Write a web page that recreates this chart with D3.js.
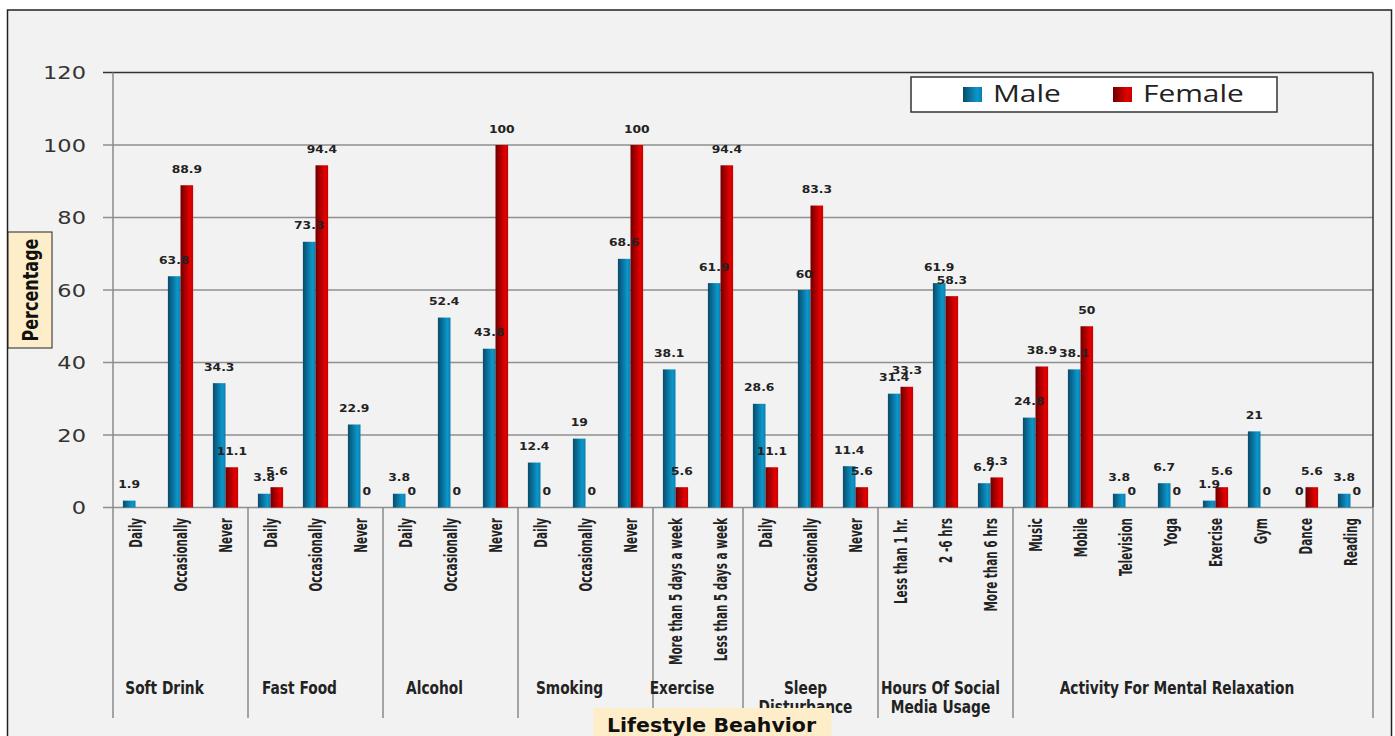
<!DOCTYPE html>
<html><head><meta charset="utf-8">
<script src="https://cdn.jsdelivr.net/npm/d3@7"></script>
<style>html,body{margin:0;padding:0;background:#fff;}svg{display:block;}</style>
</head><body>
<svg id="chart" width="1395" height="736"></svg>
<script>
// ---------- data ----------
const groupLabels = [["Soft Drink"],["Fast Food"],["Alcohol"],["Smoking"],["Exercise"],["Sleep","Disturbance"],["Hours Of Social","Media Usage"],["Activity For Mental Relaxation"]];
const groupCounts = [3,3,3,3,2,3,3,8];
const categories = ["Daily","Occasionally","Never",
  "Daily","Occasionally","Never",
  "Daily","Occasionally","Never",
  "Daily","Occasionally","Never",
  "More than 5 days a week","Less than 5 days a week",
  "Daily","Occasionally","Never",
  "Less than 1 hr.","2 -6 hrs","More than 6 hrs",
  "Music","Mobile","Television","Yoga","Exercise","Gym","Dance","Reading"];
const maleValues   = [1.9,63.8,34.3, 3.8,73.3,22.9, 3.8,52.4,43.8, 12.4,19,68.6, 38.1,61.9, 28.6,60,11.4, 31.4,61.9,6.7, 24.8,38.1,3.8,6.7,1.9,21,0,3.8];
const femaleValues = [null,88.9,11.1, 5.6,94.4,0, 0,0,100, 0,0,100, 5.6,94.4, 11.1,83.3,5.6, 33.3,58.3,8.3, 38.9,50,0,0,5.6,0,5.6,0];
const seriesNames = ["Male","Female"];
const yTicks = [0,20,40,60,80,100,120];
const yTitle = "Percentage";
const xTitle = "Lifestyle Beahvior";

// ---------- layout ----------
const svg = d3.select("#chart");
const L = 113, R = 1373, T = 72.5, B = 507.5, sepBottom = 718;
const keys = categories.map((c,i)=>i);
const x0 = d3.scaleBand().domain(keys).range([L,R]).paddingInner(0.44).paddingOuter(0.22);
const x1 = d3.scaleBand().domain(seriesNames).range([0,x0.bandwidth()]);
const y = d3.scaleLinear().domain([0,120]).range([B,T]);
const gapHalf = (x0.step()-x0.bandwidth())/2;
const condensed = "'Liberation Sans Narrow','DejaVu Sans Condensed',sans-serif";
const verd = "'DejaVu Sans', Verdana, sans-serif";

// gradients
const defs = svg.append("defs");
const grads = {
  Male:[["0%","#094a68"],["35%","#0a6f99"],["75%","#0c97cb"],["100%","#0a7eae"]],
  Female:[["0%","#6e0000"],["35%","#a50000"],["75%","#e40000"],["100%","#c60000"]]
};
Object.entries(grads).forEach(([k,stops])=>{
  const g = defs.append("linearGradient").attr("id","g"+k).attr("x1",0).attr("x2",1).attr("y1",0).attr("y2",0);
  stops.forEach(s=>g.append("stop").attr("offset",s[0]).attr("stop-color",s[1]));
});

// frame
svg.append("rect").attr("x",7.5).attr("y",10).attr("width",1384).attr("height",740)
  .attr("fill","#f2f2f2").attr("stroke","#222").attr("stroke-width",1.5);

// gridlines
svg.append("g").selectAll("line").data(yTicks).join("line")
  .attr("x1",L-10).attr("x2",R).attr("y1",d=>y(d)).attr("y2",d=>y(d))
  .attr("stroke",d=>d===120?"#333":"#8f8f8f").attr("stroke-width",1.5);

// y axis
const yAxis = svg.append("g").attr("transform",`translate(${L},0)`)
  .call(d3.axisLeft(y).tickValues(yTicks).tickSize(10).tickSizeOuter(0));
yAxis.select(".domain").remove();
yAxis.selectAll(".tick line").attr("stroke","none");
yAxis.selectAll(".tick text").attr("x",0).attr("dy","0.35em")
  .attr("transform","translate(-27,0) scale(1.25,1)")
  .attr("font-family",verd).attr("font-size",18).attr("fill","#333")
  .attr("text-anchor","end");

// axis lines
svg.append("line").attr("x1",L).attr("x2",L).attr("y1",T).attr("y2",sepBottom).attr("stroke","#8a8a8a").attr("stroke-width",1.5);
svg.append("line").attr("x1",R).attr("x2",R).attr("y1",T).attr("y2",B).attr("stroke","#333").attr("stroke-width",1.5);

// group separators
let cum = 0; const bounds = [];
groupCounts.forEach(n=>{ bounds.push(cum); cum+=n; }); bounds.push(cum);
svg.append("g").selectAll("line").data(bounds.slice(1)).join("line")
  .attr("x1",d=> d<categories.length ? x0(d)-gapHalf : R)
  .attr("x2",d=> d<categories.length ? x0(d)-gapHalf : R)
  .attr("y1",B).attr("y2",sepBottom).attr("stroke","#8a8a8a").attr("stroke-width",1.5);

// bars
const rows = keys.map(i=>({i, Male:maleValues[i], Female:femaleValues[i]}));
const cells = rows.flatMap(r=>seriesNames.map(s=>({i:r.i, s, v:r[s]}))).filter(d=>d.v!==null);
svg.append("g").selectAll("rect").data(cells).join("rect")
  .attr("x",d=>x0(d.i)+x1(d.s)).attr("width",x1.bandwidth())
  .attr("y",d=>y(d.v)).attr("height",d=>y(0)-y(d.v))
  .attr("fill",d=>`url(#g${d.s})`);

// data labels
svg.append("g").selectAll("text").data(cells).join("text")
  .attr("transform",d=>`translate(${x0(d.i)+x1(d.s)+x1.bandwidth()/2},${y(d.v)-12.5}) scale(1.12,1)`)
  .attr("text-anchor","middle")
  .attr("font-family",verd).attr("font-weight","bold")
  .attr("font-size",11).attr("fill","#222")
  .text(d=>d.v);

// category labels
svg.append("g").selectAll("text").data(keys).join("text")
  .attr("transform",i=>`translate(${x0(i)+x0.bandwidth()/2},518) rotate(-90) scale(0.8,1.25)`)
  .attr("text-anchor","end").attr("dy","0.35em")
  .attr("font-family",condensed)
  .attr("font-weight","bold").attr("font-size",14.5).attr("fill","#222")
  .text(i=>categories[i]);

// group labels
groupLabels.forEach((lines,gi)=>{
  const a = L + bounds[gi]*x0.step(), b = L + bounds[gi+1]*x0.step();
  const cx = (a+b)/2 + (lines.length>1 ? -5 : -16);
  lines.forEach((t,li)=>{
    svg.append("text")
      .attr("transform",`translate(${cx},${694+li*19}) scale(0.9,1)`)
      .attr("text-anchor","middle")
      .attr("font-family",condensed)
      .attr("font-weight","bold").attr("font-size",17).attr("fill","#222")
      .text(t);
  });
});

// x title
const xtc = L + (R-L)*0.475;
svg.append("rect").attr("x",xtc-118).attr("y",708).attr("width",238).attr("height",40).attr("fill","#fdeec9");
svg.append("text").attr("transform",`translate(${xtc},732) scale(1.08,1)`).attr("text-anchor","middle")
  .attr("font-family",verd).attr("font-weight","bold")
  .attr("font-size",19).attr("fill","#111").text(xTitle);

// y title
const ytc = (T+B)/2;
svg.append("rect").attr("x",8).attr("y",ytc-58).attr("width",44).attr("height",116)
  .attr("fill","#fdeec9").attr("stroke","#222").attr("stroke-width",1);
svg.append("text").attr("transform",`translate(31,${ytc}) rotate(-90) scale(1,1.3)`)
  .attr("text-anchor","middle").attr("dy","0.35em")
  .attr("font-family",verd).attr("font-weight","bold")
  .attr("font-size",16).attr("fill","#111").text(yTitle);

// legend
const lg = svg.append("g");
lg.append("rect").attr("x",911).attr("y",77).attr("width",366).attr("height",35)
  .attr("fill","#fff").attr("stroke","#333").attr("stroke-width",1.5);
seriesNames.forEach((s,k)=>{
  const lx = 963 + k*150;
  lg.append("rect").attr("x",lx).attr("y",87).attr("width",19).attr("height",15).attr("fill",`url(#g${s})`);
  lg.append("text").attr("transform",`translate(${lx+30},102) scale(1.3,1)`)
    .attr("font-family","'Open Sans','Liberation Sans',sans-serif").attr("font-size",23).attr("fill","#222").text(s);
});
</script>
</body></html>
